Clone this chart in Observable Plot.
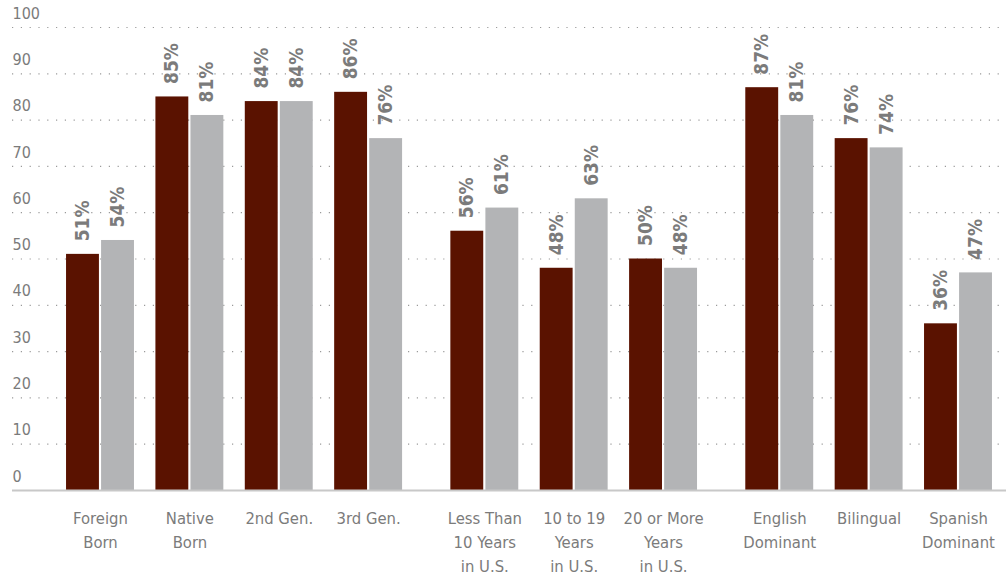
<!DOCTYPE html>
<html>
<head>
<meta charset="utf-8">
<script src="https://cdn.jsdelivr.net/npm/d3@7"></script>
<script src="https://cdn.jsdelivr.net/npm/@observablehq/plot@0.6"></script>
<style>
  html, body { margin: 0; padding: 0; background: #fff; }
  #chart svg { display: block; }
</style>
</head>
<body>
<div id="chart"></div>
<script>
const categories = ["Foreign\nBorn", "Native\nBorn", "2nd Gen.", "3rd Gen.",
  "Less Than\n10 Years\nin U.S.", "10 to 19\nYears\nin U.S.", "20 or More\nYears\nin U.S.",
  "English\nDominant", "Bilingual", "Spanish\nDominant"];
const sections = [0, 0, 0, 0, 1, 1, 1, 2, 2, 2];
const seriesA = [51, 85, 84, 86, 56, 48, 50, 87, 76, 36];
const seriesB = [54, 81, 84, 76, 61, 63, 48, 81, 74, 47];
const yTicks = [0, 10, 20, 30, 40, 50, 60, 70, 80, 90, 100];

const sectionGap = 0.3;
const pos = categories.map((c, i) => i + sectionGap * sections[i]);
const rows = [];
categories.forEach((c, i) => {
  rows.push({cat: c, series: "A", value: seriesA[i], x1: pos[i] - 0.38, x2: pos[i] - 0.012, xc: pos[i] - 0.196});
  rows.push({cat: c, series: "B", value: seriesB[i], x1: pos[i] + 0.012, x2: pos[i] + 0.38, xc: pos[i] + 0.196});
});
const groups = categories.map((c, i) => ({cat: c, x: pos[i]}));

const font = "'Liberation Sans Narrow', 'DejaVu Sans Condensed', 'Roboto', sans-serif";
const textGray = "#7b7b7b";

const chart = Plot.plot({
  width: 1006,
  height: 576,
  marginLeft: 12,
  marginRight: 0,
  marginTop: 27,
  marginBottom: 86,
  style: {fontFamily: font, background: "#fff"},
  x: {domain: [pos[0], pos[pos.length - 1]], range: [100, 958], axis: null},
  y: {domain: [0, 100], axis: null},
  color: {domain: ["A", "B"], range: ["#5a1200", "#b3b4b6"]},
  marks: [
    Plot.ruleY(yTicks.filter(d => d > 0), {stroke: "#9a9a9a", strokeWidth: 1.2, strokeDasharray: "1.2,7.6"}),
    Plot.text(yTicks, {y: d => d, text: d => String(d), frameAnchor: "left", textAnchor: "start", dy: -14, fontSize: 16, fill: textGray}),
    Plot.rectY(rows, {x1: "x1", x2: "x2", y: "value", fill: "series"}),
    Plot.ruleY([0], {stroke: "#c8c8c8", strokeWidth: 2}),
    Plot.text(rows, {x: "xc", y: "value", text: d => d.value + "%", rotate: -90, textAnchor: "start", dy: -13, fontSize: 19, fontWeight: "bold", fill: textGray}),
    Plot.text(groups, {x: "x", y: 0, text: "cat", lineAnchor: "top", dy: 17, fontSize: 16.5, lineHeight: 1.45, fill: textGray})
  ]
});
document.getElementById("chart").appendChild(chart);
</script>
</body>
</html>
